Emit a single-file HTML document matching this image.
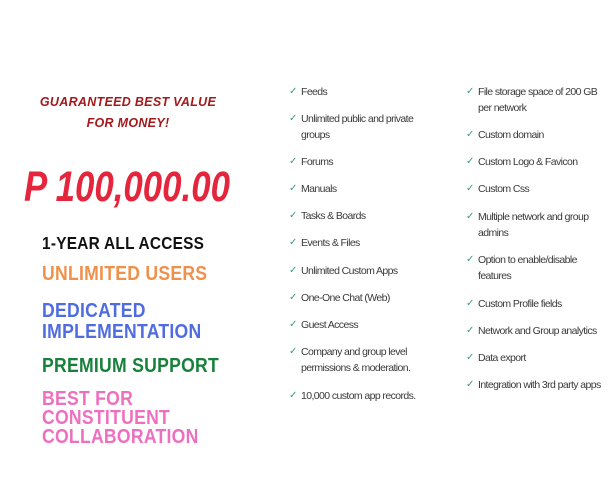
<!DOCTYPE html>
<html><head><meta charset="utf-8"><style>
body{margin:0;width:614px;height:487px;background:#fff;position:relative;overflow:hidden;font-family:"Liberation Sans",sans-serif}
.a{position:absolute;white-space:nowrap}
.h{font-weight:bold;font-style:italic;color:#a3191c;font-size:12.5px;letter-spacing:0.3px;width:256px;text-align:center;left:0}
.b{font-weight:bold;font-size:20px;letter-spacing:0.3px;left:42px;line-height:20px;transform-origin:0 0;transform:scaleX(0.88)}
.li{font-size:10.5px;color:#3a3a3a;letter-spacing:-0.6px;line-height:16px}
.li span.c{color:#3aa070;position:absolute;left:-12px;font-size:10px}
</style></head><body>
<div class="a h" style="top:95px">GUARANTEED BEST VALUE</div>
<div class="a h" style="top:116px">FOR MONEY!</div>
<div class="a" style="left:24px;top:163px;font-size:43px;font-weight:bold;font-style:italic;color:#e4253c;transform-origin:0 0;transform:scaleX(0.81)">P 100,000.00</div>
<div class="a b" style="top:233px;color:#111;font-size:17.5px">1-YEAR ALL ACCESS</div>
<div class="a b" style="top:264px;color:#f0904a">UNLIMITED USERS</div>
<div class="a b" style="top:301px;color:#4f6ce0;line-height:21px">DEDICATED<br>IMPLEMENTATION</div>
<div class="a b" style="top:356px;color:#17803a">PREMIUM SUPPORT</div>
<div class="a b" style="top:390px;color:#ee6fbf;line-height:19px">BEST FOR<br>CONSTITUENT<br>COLLABORATION</div>

<div class="a li" style="left:301px;top:84px"><span class="c">✓</span>Feeds</div>
<div class="a li" style="left:301px;top:111px"><span class="c">✓</span>Unlimited public and private<br>groups</div>
<div class="a li" style="left:301px;top:154px"><span class="c">✓</span>Forums</div>
<div class="a li" style="left:301px;top:181px"><span class="c">✓</span>Manuals</div>
<div class="a li" style="left:301px;top:208px"><span class="c">✓</span>Tasks &amp; Boards</div>
<div class="a li" style="left:301px;top:235px"><span class="c">✓</span>Events &amp; Files</div>
<div class="a li" style="left:301px;top:263px"><span class="c">✓</span>Unlimited Custom Apps</div>
<div class="a li" style="left:301px;top:290px"><span class="c">✓</span>One-One Chat (Web)</div>
<div class="a li" style="left:301px;top:317px"><span class="c">✓</span>Guest Access</div>
<div class="a li" style="left:301px;top:344px"><span class="c">✓</span>Company and group level<br>permissions &amp; moderation.</div>
<div class="a li" style="left:301px;top:388px"><span class="c">✓</span>10,000 custom app records.</div>

<div class="a li" style="left:478px;top:84px"><span class="c">✓</span>File storage space of 200 GB<br>per network</div>
<div class="a li" style="left:478px;top:127px"><span class="c">✓</span>Custom domain</div>
<div class="a li" style="left:478px;top:154px"><span class="c">✓</span>Custom Logo &amp; Favicon</div>
<div class="a li" style="left:478px;top:181px"><span class="c">✓</span>Custom Css</div>
<div class="a li" style="left:478px;top:209px"><span class="c">✓</span>Multiple network and group<br>admins</div>
<div class="a li" style="left:478px;top:252px"><span class="c">✓</span>Option to enable/disable<br>features</div>
<div class="a li" style="left:478px;top:296px"><span class="c">✓</span>Custom Profile fields</div>
<div class="a li" style="left:478px;top:323px"><span class="c">✓</span>Network and Group analytics</div>
<div class="a li" style="left:478px;top:350px"><span class="c">✓</span>Data export</div>
<div class="a li" style="left:478px;top:377px"><span class="c">✓</span>Integration with 3rd party apps</div>
</body></html>
